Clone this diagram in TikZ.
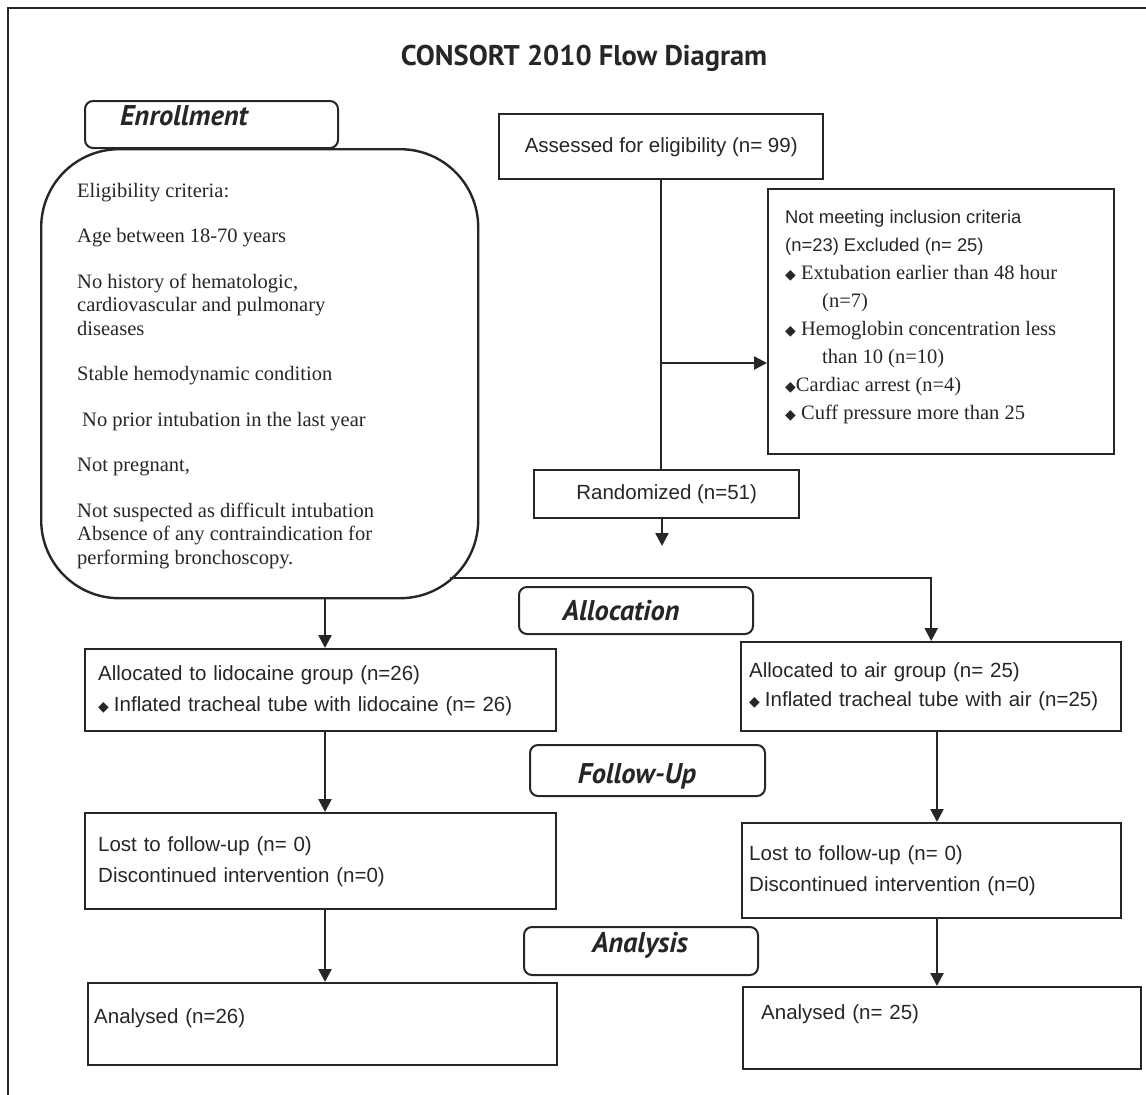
\documentclass[tikz,border=0pt]{standalone}
\usepackage{fontspec}
\setmainfont{Liberation Serif}
\setsansfont{Liberation Sans}
\newfontfamily\hdrfont{PT Sans}
\newfontfamily\symfont{DejaVu Sans}
\usetikzlibrary{arrows.meta}

\newcommand{\dmd}{{\symfont\fontsize{14}{14}\selectfont ◆}}

\begin{document}
\begin{tikzpicture}[x=1pt, y=-1pt, line join=miter, text=black!85,
  box/.style={draw=black!85, line width=2.4pt, rectangle, inner sep=0pt, anchor=north west,
              font=\sffamily\fontsize{20.5}{31}\selectfont},
  hdr/.style={draw=black!85, line width=2pt, rounded corners=8pt, anchor=north west, inner sep=0pt},
  hdrtxt/.style={font=\hdrfont\bfseries\itshape\fontsize{28.5}{32}\selectfont, anchor=base, inner sep=0pt},
  arr/.style={draw=black!85, line width=2.4pt, -{Triangle[width=13pt,length=13pt]}},
  link/.style={draw=black!85, line width=2.4pt}]

  %% ==== frame and title ====
  \draw[black!85, line width=2pt] (8,1095) -- (8,8) -- (1146,8);
  \node[font=\hdrfont\bfseries\fontsize{28.5}{32}\selectfont, anchor=base, inner sep=0pt] (title) at (584,65) {CONSORT 2010 Flow Diagram};

  %% ==== enrollment ====
  \node[box, rounded corners=78pt, minimum width=437, minimum height=449] (elig) at (40,148) {};
  \node[anchor=north west, inner sep=0pt, align=left, font=\rmfamily\fontsize{20.5}{23.5}\selectfont] (crit) at (77,183)
    {Eligibility criteria:\\[22pt]
     Age between 18-70 years\\[22pt]
     No history of hematologic,\\
     cardiovascular and pulmonary\\
     diseases\\[22pt]
     Stable hemodynamic condition\\[22pt]
     \hspace*{5pt}No prior intubation in the last year\\[22pt]
     Not pregnant,\\[22pt]
     Not suspected as difficult intubation\\
     Absence of any contraindication for\\
     performing bronchoscopy.};
  \node[hdr, minimum width=253, minimum height=47] (enrollbox) at (84,100) {};
  \node[hdrtxt] (enroll) at (184,125) {Enrollment};

  \node[box, minimum width=324, minimum height=65] (assess) at (498,113) {Assessed for eligibility (n= 99)};
  \node[box, minimum width=346, minimum height=265] (excl) at (767,188) {};
  \node[anchor=north west, inner sep=0pt, align=left, font=\rmfamily\fontsize{20.5}{28}\selectfont] (exclist) at (785,210)
    {{\sffamily\fontsize{18.4}{28}\selectfont Not meeting inclusion criteria}\\
     {\sffamily\fontsize{18.4}{28}\selectfont (n=23) Excluded (n= 25)}\\
     \dmd\ Extubation earlier than 48 hour\\
     \hspace*{37pt}(n=7)\\
     \dmd\ Hemoglobin concentration less\\
     \hspace*{37pt}than 10 (n=10)\\
     \dmd Cardiac arrest (n=4)\\
     \dmd\ Cuff pressure more than 25};
  \node[box, minimum width=265, minimum height=48] (rand) at (533,469) {Randomized (n=51)};

  \coordinate (brk) at (661,363);
  \coordinate (randend) at (662,546);
  \coordinate (split) at (450,578);
  \draw[link] (assess.south -| brk) -- (rand.north -| brk);
  \draw[arr] (brk) -- (brk -| excl.west);
  \draw[arr] (rand.south -| randend) -- (randend);

  %% ==== allocation ====
  \node[hdr, minimum width=234, minimum height=47] (allocbox) at (518,586) {};
  \node[hdrtxt] (alloc) at (621,620) {Allocation};

  \node[box, minimum width=471, minimum height=82, text width=445, inner xsep=13, align=left] (lid) at (84,648)
    {Allocated to lidocaine group (n=26)\\
     \dmd\hspace{5pt}Inflated tracheal tube with lidocaine (n= 26)};
  \node[box, minimum width=380, minimum height=89, text width=364, inner xsep=8, align=left,
        font=\sffamily\fontsize{20.5}{29}\selectfont] (air) at (740,641)
    {Allocated to air group (n= 25)\\
     \dmd\hspace{5pt}Inflated tracheal tube with air (n=25)};

  \draw[arr] (elig.south -| 325,0) -- (lid.north -| 325,0);
  \draw[arr] (split) -| (air.north);

  %% ==== follow-up ====
  \node[hdr, minimum width=235, minimum height=51] (followbox) at (529,744) {};
  \node[hdrtxt] (follow) at (637,783) {Follow-Up};

  \node[box, minimum width=471, minimum height=96, text width=445, inner xsep=13, align=left] (lidlost) at (84,812)
    {Lost to follow-up (n= 0)\\
     Discontinued intervention (n=0)};
  \node[box, minimum width=379, minimum height=95, text width=365, inner xsep=7, align=left] (airlost) at (741,822)
    {Lost to follow-up (n= 0)\\
     Discontinued intervention (n=0)};

  \draw[arr] (lid.south -| 325,0) -- (lidlost.north -| 325,0);
  \draw[arr] (air.south -| 937,0) -- (airlost.north -| 937,0);

  %% ==== analysis ====
  \node[hdr, minimum width=234, minimum height=48] (anabox) at (523,926) {};
  \node[hdrtxt] (ana) at (640,952) {Analysis};

  \node[box, text width=457, inner xsep=6, inner ysep=0pt, align=left, text height=40, text depth=42] (lidana) at (87,982)
    {Analysed (n=26)};
  \node[box, text width=362, inner xsep=18, inner ysep=0pt, align=left, text height=32, text depth=50] (airana) at (742,986)
    {Analysed (n= 25)};

  \draw[arr] (lidlost.south -| 325,0) -- (lidana.north -| 325,0);
  \draw[arr] (airlost.south -| 937,0) -- (airana.north -| 937,0);

  \pgfresetboundingbox
  \path[use as bounding box] (0,0) rectangle (1146,1095);
\end{tikzpicture}
\end{document}
